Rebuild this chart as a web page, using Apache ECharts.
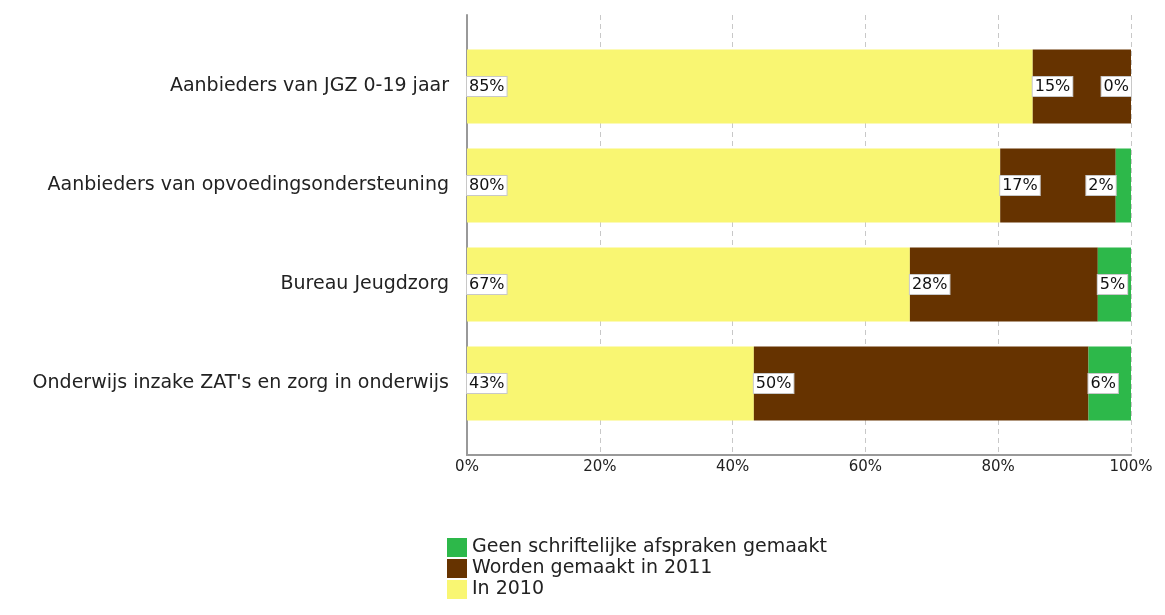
<!DOCTYPE html>
<html>
<head>
<meta charset="utf-8">
<script src="https://cdn.jsdelivr.net/npm/echarts@6/dist/echarts.min.js"></script>
<style>
  html, body { margin: 0; padding: 0; background: #fff; }
  #chart { width: 1165px; height: 615px; }
</style>
</head>
<body>
<div id="chart"></div>
<script>
  // categories (top to bottom)
  const categories = [
    'Aanbieders van JGZ 0-19 jaar',
    'Aanbieders van opvoedingsondersteuning',
    'Bureau Jeugdzorg',
    "Onderwijs inzake ZAT's en zorg in onderwijs"
  ]
  // percentages per series
  const in2010 = [85.2, 80.3, 66.7, 43.2]
  const gemaakt2011 = [14.8, 17.4, 28.3, 50.4]
  const geenAfspraken = [0, 2.3, 5.0, 6.4]
  const xTicks = [0, 20, 40, 60, 80, 100]

  const seriesNames = ['In 2010', 'Worden gemaakt in 2011', 'Geen schriftelijke afspraken gemaakt']
  const colors = ['#f9f672', '#663300', '#2db84a']

  const labelBase = {
    show: true,
    position: 'insideLeft',
    distance: 0,
    fontFamily: 'DejaVu Sans',
    fontSize: 16,
    color: '#111',
    backgroundColor: '#fff',
    borderColor: '#c8c8c8',
    borderWidth: 1,
    padding: [2, 2, 1, 2],
    formatter: p => Math.round(p.value) + '%'
  }

  // tiny segments get their label pushed to the left of the segment
  function toData (arr) {
    return arr.map(v => v < 4 ? { value: v, label: { position: 'left' } } : v)
  }

  const chart = echarts.init(document.getElementById('chart'))
  chart.setOption({
    animation: false,
    grid: [
      { left: 467, right: 34, top: 15, bottom: 160 }, // frame with gridlines
      { left: 467, right: 34, top: 37, bottom: 182 } // bars
    ],
    legend: {
      orient: 'vertical',
      left: 442,
      top: 533,
      itemWidth: 20,
      itemHeight: 19,
      itemGap: 2,
      icon: 'rect',
      data: [seriesNames[2], seriesNames[1], seriesNames[0]],
      textStyle: { fontFamily: 'DejaVu Sans', fontSize: 19, color: '#222' }
    },
    xAxis: [
      {
        gridIndex: 0,
        type: 'value',
        min: xTicks[0],
        max: xTicks[xTicks.length - 1],
        interval: xTicks[1] - xTicks[0],
        axisLine: { show: true, lineStyle: { color: '#999', width: 2 } },
        axisTick: { show: false },
        splitLine: { show: true, lineStyle: { color: '#c8c8c8', type: [5, 4] } },
        axisLabel: {
          formatter: '{value}%',
          fontFamily: 'DejaVu Sans',
          fontSize: 15,
          color: '#222',
          margin: 5
        }
      },
      {
        gridIndex: 1,
        type: 'value',
        min: 0,
        max: 100,
        show: false
      }
    ],
    yAxis: [
      {
        gridIndex: 0,
        type: 'value',
        axisLine: { show: true, lineStyle: { color: '#999', width: 2 } },
        axisTick: { show: false },
        axisLabel: { show: false },
        splitLine: { show: false }
      },
      {
        gridIndex: 1,
        type: 'category',
        inverse: true,
        data: categories,
        axisLine: { show: false },
        axisTick: { show: false },
        axisLabel: {
          fontFamily: 'DejaVu Sans',
          fontSize: 19,
          color: '#222',
          margin: 18
        }
      }
    ],
    series: [
      { name: seriesNames[0], type: 'bar', stack: 'a', data: toData(in2010) },
      { name: seriesNames[1], type: 'bar', stack: 'a', data: toData(gemaakt2011) },
      { name: seriesNames[2], type: 'bar', stack: 'a', data: toData(geenAfspraken) }
    ].map((s, i) => Object.assign(s, {
      xAxisIndex: 1,
      yAxisIndex: 1,
      barWidth: 74,
      itemStyle: { color: colors[i] },
      label: labelBase
    }))
  })
</script>
</body>
</html>
